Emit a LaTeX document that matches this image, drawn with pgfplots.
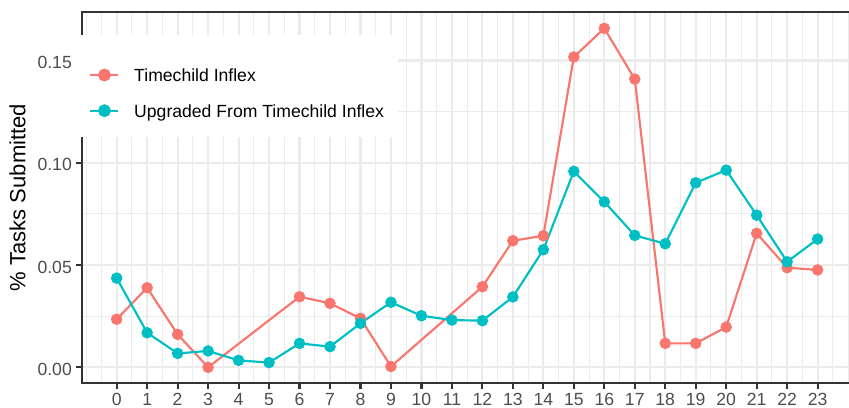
\documentclass[border=0pt]{standalone}
\usepackage{fontspec}
\setmainfont{Liberation Sans}
\usepackage{pgfplots}
\pgfplotsset{compat=1.18}
\definecolor{tcred}{HTML}{F8766D}
\definecolor{tcteal}{HTML}{00BFC4}
\definecolor{grid92}{HTML}{EBEBEB}
\definecolor{grey20}{HTML}{333333}
\definecolor{grey30}{HTML}{4D4D4D}
\begin{document}
\begin{tikzpicture}
\begin{axis}[
  at={(0,0)}, anchor=south west,
  scale only axis,
  width=385.48pt, height=185.5pt,
  xmin=-1.148, xmax=24.15,
  ymin=-0.00767, ymax=0.1737,
  clip=false,
  axis line style={draw=grey20, line width=1.07pt},
  xtick={0,...,23},
  ytick={0,0.05,0.1,0.15},
  minor xtick={-1,-0.5,0.5,1.5,2.5,3.5,4.5,5.5,6.5,7.5,8.5,9.5,10.5,11.5,12.5,13.5,14.5,15.5,16.5,17.5,18.5,19.5,20.5,21.5,22.5,23.5,24},
  minor ytick={-0.025,0.025,0.075,0.125},
  grid=both,
  major grid style={draw=grid92, line width=1.07pt},
  minor grid style={draw=grid92, line width=0.53pt},
  tick align=outside,
  xtick pos=left, ytick pos=left,
  major tick length=2.75pt, minor tick length=0pt,
  major tick style={draw=grey20, line width=1.07pt},
  /pgf/number format/assume math mode=true,
  xticklabel style={font=\fontsize{8.8}{10}\selectfont, text=grey30, inner sep=0pt, yshift=-2.4pt},
  yticklabel style={font=\fontsize{8.8}{10}\selectfont, text=grey30, inner sep=0pt, xshift=-2pt, yshift=-1pt,
    /pgf/number format/fixed, /pgf/number format/fixed zerofill, /pgf/number format/precision=2},
  ylabel={\% Tasks Submitted},
  ylabel style={at={(axis description cs:-0.08327,0.5)}, anchor=center, font=\fontsize{11}{13}\selectfont},
  legend style={at={(0.00947,0.8482)}, anchor=north west, draw=none, fill=none, inner sep=0pt,
    row sep=11.55pt, column sep=7.35pt, font=\fontsize{8.8}{10}\selectfont,
    nodes={inner sep=0pt, text height=6.3pt, text depth=0pt}},
  legend cell align=left,
  legend image code/.code={\draw[mark repeat=2, mark phase=2, #1] plot coordinates {(0pt,0pt) (7pt,0pt) (14pt,0pt)};},
]
\addplot[tcred, line width=1.07pt, no markers, forget plot] coordinates {
(0,0.0235)(1,0.0389)(2,0.0161)(3,0.0)(6,0.0345)(7,0.0313)(8,0.0239)(9,0.0004)(12,0.0394)(13,0.0619)(14,0.0643)(15,0.1517)(16,0.1657)(17,0.1409)(18,0.0117)(19,0.0117)(20,0.0197)(21,0.0655)(22,0.0487)(23,0.0476)};
\addplot[tcteal, line width=1.07pt, no markers, forget plot] coordinates {
(0,0.0436)(1,0.0169)(2,0.0068)(3,0.0080)(4,0.0034)(5,0.0023)(6,0.0117)(7,0.0101)(8,0.0215)(9,0.0318)(10,0.0252)(11,0.0231)(12,0.0228)(13,0.0344)(14,0.0575)(15,0.0958)(16,0.0809)(17,0.0645)(18,0.0604)(19,0.0902)(20,0.0964)(21,0.0744)(22,0.0516)(23,0.0627)};
\addplot[only marks, mark=*, mark size=2.67pt, tcred, forget plot] coordinates {
(0,0.0235)(1,0.0389)(2,0.0161)(3,0.0)(6,0.0345)(7,0.0313)(8,0.0239)(9,0.0004)(12,0.0394)(13,0.0619)(14,0.0643)(15,0.1517)(16,0.1657)(17,0.1409)(18,0.0117)(19,0.0117)(20,0.0197)(21,0.0655)(22,0.0487)(23,0.0476)};
\addplot[only marks, mark=*, mark size=2.67pt, tcteal, forget plot] coordinates {
(0,0.0436)(1,0.0169)(2,0.0068)(3,0.0080)(4,0.0034)(5,0.0023)(6,0.0117)(7,0.0101)(8,0.0215)(9,0.0318)(10,0.0252)(11,0.0231)(12,0.0228)(13,0.0344)(14,0.0575)(15,0.0958)(16,0.0809)(17,0.0645)(18,0.0604)(19,0.0902)(20,0.0964)(21,0.0744)(22,0.0516)(23,0.0627)};
\fill[white] (rel axis cs:-0.0074,0.6631) rectangle (rel axis cs:0.4103,0.938);
\addlegendimage{tcred, line width=1.07pt, mark=*, mark size=2.67pt}
\addlegendentry{Timechild Inflex}
\addlegendimage{tcteal, line width=1.07pt, mark=*, mark size=2.67pt}
\addlegendentry{Upgraded From Timechild Inflex}
\end{axis}
\pgfresetboundingbox
\useasboundingbox (-40.85pt,-12pt) rectangle (383.65pt,191.5pt);
\end{tikzpicture}
\end{document}
